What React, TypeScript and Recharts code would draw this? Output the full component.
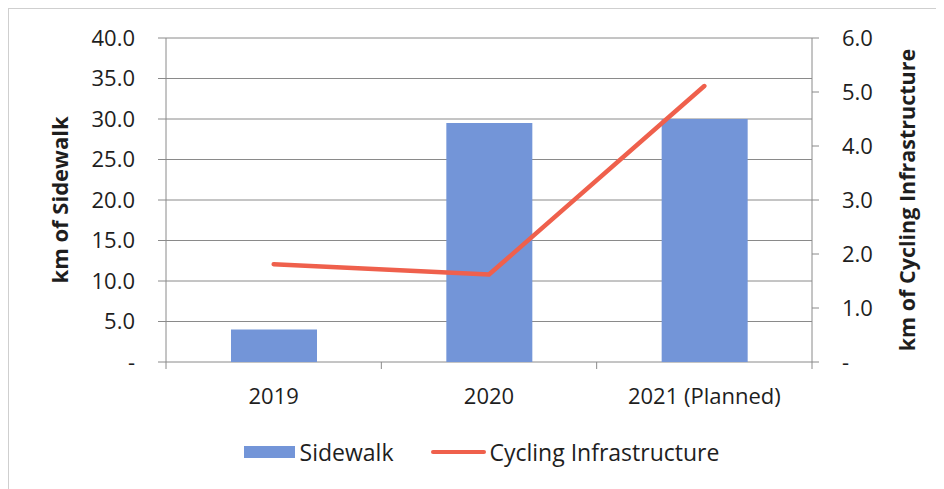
import React from 'react';
import { ComposedChart, Bar, Line, XAxis, YAxis, CartesianGrid, Legend } from 'recharts';

const categories = ['2019', '2020', '2021 (Planned)'];
const sidewalkKm = [4.0, 29.5, 30.0];
const cyclingKm = [1.81, 1.62, 5.11];
const leftTicks = [0, 5, 10, 15, 20, 25, 30, 35, 40];
const rightTicks = [0, 1, 2, 3, 4, 5, 6];
const xTicks = [0, 0.5, 1, 1.5, 2, 2.5, 3];

const data = categories.map((c, i) => ({
  x: i + 0.5,
  name: c,
  sidewalk: sidewalkKm[i],
  cycling: cyclingKm[i],
}));

const FONT = '"Open Sans", "Noto Sans", sans-serif';
const TEXT = '#1e1e1e';
const GRID = '#8a8a8a';
const BAR = '#7395d8';
const LINE = '#ef604c';

const fmt = (v: number) => (v === 0 ? '-' : v.toFixed(1));

const XTick = (props: any) => {
  const { x, y, payload } = props;
  const v = payload.value as number;
  if (Number.isInteger(v)) {
    return <line x1={x} x2={x} y1={y} y2={y + 7} stroke={GRID} strokeWidth={1} />;
  }
  const label = categories[Math.floor(v)];
  return (
    <text x={x} y={y + 26} dy="0.71em" textAnchor="middle" fontSize={22} fill={TEXT} fontFamily={FONT}>
      {label}
    </text>
  );
};

const LeftTitle = (props: any) => {
  const vb = props.viewBox;
  const cx = vb.x + 50;
  const cy = vb.y + vb.height / 2;
  return (
    <text x={cx} y={cy} transform={`rotate(-90, ${cx}, ${cy})`} textAnchor="middle" dominantBaseline="central"
      fontSize={22} fontWeight={700} fill={TEXT} fontFamily={FONT}>
      km of Sidewalk
    </text>
  );
};

const RightTitle = (props: any) => {
  const vb = props.viewBox;
  const cx = vb.x + 94;
  const cy = vb.y + vb.height / 2;
  return (
    <text x={cx} y={cy} transform={`rotate(-90, ${cx}, ${cy})`} textAnchor="middle" dominantBaseline="central"
      fontSize={21.5} fontWeight={700} fill={TEXT} fontFamily={FONT}>
      km of Cycling Infrastructure
    </text>
  );
};

const LegendContent = () => (
  <div style={{ height: 30, display: 'flex', alignItems: 'center', justifyContent: 'center', paddingLeft: 9, fontFamily: FONT, fontSize: 23, color: TEXT }}>
    <span style={{ display: 'inline-block', width: 51, height: 12, background: BAR, marginRight: 5 }} />
    <span>Sidewalk</span>
    <span style={{ display: 'inline-block', width: 55, height: 4, background: LINE, borderRadius: 2, marginLeft: 38, marginRight: 3 }} />
    <span>Cycling Infrastructure</span>
  </div>
);

export default function App() {
  return (
    <div style={{ borderLeft: '1px solid #cfcfcf', borderTop: '1px solid #cfcfcf', width: 936, height: 481, fontFamily: FONT }}>
      <ComposedChart width={936} height={481} data={data} margin={{ top: 29, right: 0, left: 0, bottom: 23 }}>
        <CartesianGrid yAxisId="left" vertical={false} stroke={GRID} strokeWidth={1} />
        <XAxis
          dataKey="x"
          type="number"
          domain={[0, 3]}
          ticks={xTicks}
          interval={0}
          tickLine={false}
          axisLine={false}
          tickSize={0}
          tickMargin={0}
          height={75}
          tick={<XTick />}
        />
        <YAxis
          yAxisId="left"
          orientation="left"
          width={157}
          domain={[0, 40]}
          ticks={leftTicks}
          interval={0}
          tickFormatter={fmt}
          tickSize={8}
          tickMargin={23}
          axisLine={{ stroke: GRID }}
          tickLine={{ stroke: GRID }}
          tick={{ fontSize: 22, fill: TEXT, fontFamily: FONT }}
          label={<LeftTitle />}
        />
        <YAxis
          yAxisId="right"
          orientation="right"
          width={133}
          domain={[0, 6]}
          ticks={rightTicks}
          interval={0}
          tickFormatter={fmt}
          tickSize={7}
          tickMargin={23}
          axisLine={{ stroke: GRID }}
          tickLine={{ stroke: GRID }}
          tick={{ fontSize: 22, fill: TEXT, fontFamily: FONT, textAnchor: 'start' }}
          label={<RightTitle />}
        />
        <Bar yAxisId="left" dataKey="sidewalk" name="Sidewalk" fill={BAR} barSize={86} isAnimationActive={false} />
        <Line yAxisId="right" dataKey="cycling" name="Cycling Infrastructure" stroke={LINE} strokeWidth={4.5}
          strokeLinecap="round" strokeLinejoin="round" dot={false} activeDot={false} type="linear" isAnimationActive={false} />
        <Legend verticalAlign="bottom" align="center" content={<LegendContent />} wrapperStyle={{ height: 30 }} />
      </ComposedChart>
    </div>
  );
}
